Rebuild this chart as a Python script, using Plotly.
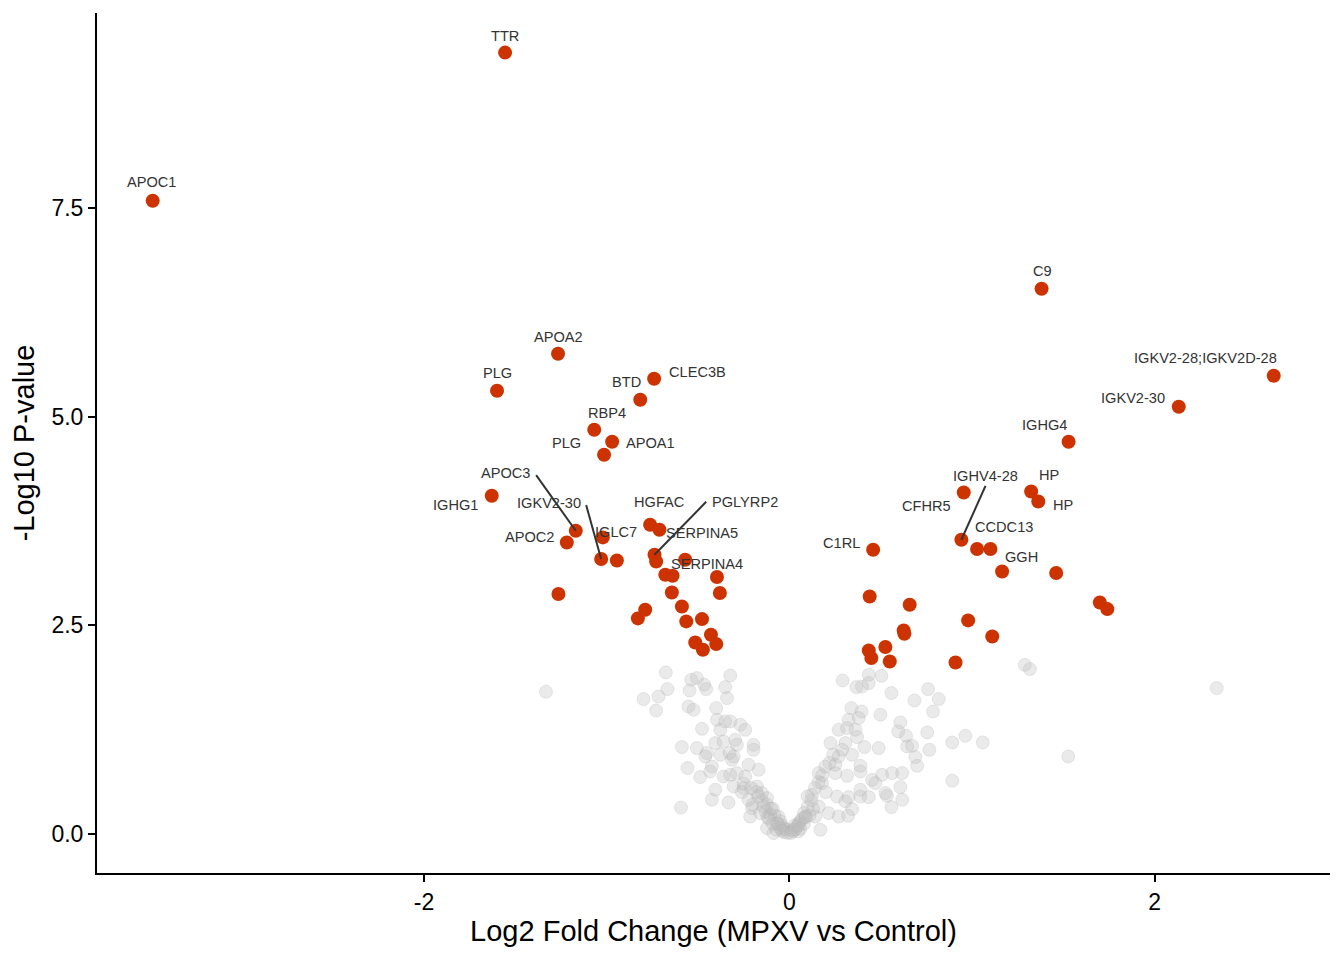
import plotly.graph_objects as go

# significant proteins (log2 fold change, -log10 p-value)
sig_x = [-1.556, -3.485, 1.381, -1.266, 2.652, -0.740, -1.600, 2.132, -0.816, -1.068,
         -0.970, 1.529, -1.014, -1.629, 0.955, 1.324, 1.363, -0.762, -0.711, -1.169,
         -1.021, -1.218, -1.030, -0.944, -0.738, -0.729, -0.570, -0.679, -0.639, -0.396,
         -0.380, -0.643, -1.264, -0.588, -0.789, -0.829, -0.564, -0.478, -0.429, -0.400,
         -0.515, -0.473,
         0.942, 1.028, 1.101, 0.459, 1.165, 1.461, 0.440, 0.659, 1.700, 1.741,
         0.979, 1.111, 0.626, 0.630, 0.526, 0.435, 0.449, 0.550, 0.910]
sig_y = [9.365, 7.590, 6.535, 5.755, 5.492, 5.456, 5.312, 5.120, 5.204, 4.844,
         4.700, 4.700, 4.544, 4.053, 4.092, 4.104, 3.984, 3.705, 3.645, 3.633,
         3.553, 3.493, 3.294, 3.277, 3.345, 3.265, 3.285, 3.106, 3.094, 3.078,
         2.886, 2.893, 2.874, 2.725, 2.686, 2.582, 2.546, 2.574, 2.386, 2.275,
         2.294, 2.206,
         3.525, 3.414, 3.414, 3.405, 3.145, 3.126, 2.845, 2.746, 2.773, 2.694,
         2.558, 2.366, 2.438, 2.398, 2.239, 2.198, 2.107, 2.066, 2.054]

# non-significant proteins
ns_x = [-0.676, -0.537, -0.506, -0.323, -0.667, -0.798, -0.716, -0.546, -0.466, -0.455,
        -0.351, -0.341, -0.729, -0.552, -0.524, -0.400, -0.396, -0.351, -0.323, -0.478,
        -0.378, -0.268, -0.241, -0.588, -0.506, -0.451, -0.405, -0.360, -0.296, -0.287,
        -0.196, -0.196, -0.378, -0.327, -0.314, -0.305, -0.460, -0.557, -0.424, -0.433,
        -0.488, -0.360, -0.323, -0.287, -0.223, -0.168, -0.241, -0.405, -0.424, -0.333,
        -0.305, -0.250, -0.177, -0.150, -0.593, -0.223, -0.204, -0.122, -0.122, -0.214,
        -0.159, -0.104, -0.059, -0.122, -0.067, -0.031, -0.086, -1.332,
        -0.10, -0.08, -0.05, -0.04, -0.02, -0.15, -0.18, -0.12, -0.07, -0.25, -0.20, -0.09, -0.03,
        -0.05, -0.06, -0.11, -0.13, -0.09, -0.14, -0.04, -0.01, -0.17, -0.21, -0.26,
        0.292, 0.435, 0.504, 0.367, 0.398, 0.435, 0.559, 0.685, 0.760, 0.818,
        0.787, 0.340, 0.395, 0.499, 0.325, 0.380, 0.608, 0.270, 0.316, 0.362,
        0.596, 0.639, 0.755, 0.225, 0.307, 0.371, 0.289, 0.411, 0.489, 0.645,
        0.672, 0.767, 0.270, 0.344, 0.690, 0.700, 0.161, 0.197, 0.252, 0.252,
        0.316, 0.389, 0.389, 0.453, 0.471, 0.508, 0.563, 0.618, 0.179, 0.124,
        0.261, 0.307, 0.325, 0.389, 0.389, 0.435, 0.526, 0.535, 0.608, 0.618,
        0.559, 0.344, 0.270, 0.322, 0.161, 0.142, 0.215, 0.170, 0.088, 0.051, 0.015,
        1.289, 1.317, 2.340, 0.892, 0.964, 1.059, 1.527, 0.892,
        0.02, 0.04, 0.06, 0.08, 0.10, 0.12, 0.14, 0.10, 0.16, 0.18, 0.05, 0.03, 0.07, 0.20, 0.22, 0.24,
        0.01, 0.03, 0.05, 0.08, 0.09, 0.11, 0.13, 0.06]
ns_y = [1.934, 1.847, 1.867, 1.898, 1.735, 1.615, 1.646, 1.718, 1.787, 1.735,
        1.759, 1.627, 1.478, 1.526, 1.487, 1.507, 1.367, 1.347, 1.347, 1.259,
        1.247, 1.307, 1.247, 1.040, 1.028, 0.968, 1.088, 1.107, 1.127, 1.067,
        1.067, 1.007, 0.947, 0.968, 0.887, 0.927, 0.927, 0.788, 0.807, 0.747,
        0.680, 0.687, 0.707, 0.728, 0.827, 0.767, 0.687, 0.528, 0.408, 0.375,
        0.567, 0.548, 0.567, 0.488, 0.315, 0.408, 0.308, 0.428, 0.348, 0.207,
        0.248, 0.228, 0.207, 0.068, 0.128, 0.068, 0.008, 1.703,
        0.30, 0.22, 0.15, 0.10, 0.05, 0.40, 0.50, 0.20, 0.05, 0.60, 0.35, 0.12, 0.02,
        0.07, 0.12, 0.18, 0.27, 0.30, 0.33, 0.04, 0.01, 0.45, 0.55, 0.50,
        1.838, 1.906, 1.894, 1.759, 1.766, 1.807, 1.687, 1.598, 1.735, 1.615,
        1.466, 1.507, 1.466, 1.427, 1.367, 1.387, 1.335, 1.247, 1.267, 1.247,
        1.227, 1.175, 1.215, 1.088, 1.088, 1.159, 1.007, 1.040, 1.028, 1.047,
        1.055, 1.007, 0.927, 0.947, 0.920, 0.815, 0.728, 0.807, 0.827, 0.728,
        0.695, 0.815, 0.747, 0.647, 0.608, 0.707, 0.728, 0.728, 0.608, 0.468,
        0.447, 0.387, 0.440, 0.528, 0.447, 0.440, 0.488, 0.456, 0.560, 0.408,
        0.320, 0.296, 0.207, 0.216, 0.327, 0.207, 0.248, 0.048, 0.207, 0.128, 0.048,
        2.026, 1.975, 1.747, 1.095, 1.175, 1.095, 0.927, 0.636,
        0.03, 0.08, 0.15, 0.25, 0.32, 0.40, 0.55, 0.45, 0.62, 0.70, 0.03, 0.10, 0.18, 0.50, 0.85, 0.95,
        0.01, 0.05, 0.10, 0.12, 0.20, 0.22, 0.30, 0.06]

# gene labels: name, label position
label_names = ["TTR", "APOC1", "C9", "APOA2", "IGKV2-28;IGKV2D-28", "CLEC3B", "PLG", "BTD",
               "IGKV2-30", "RBP4", "IGHG4", "PLG", "APOA1", "APOC3", "IGHV4-28", "HP",
               "IGHG1", "IGKV2-30", "HGFAC", "PGLYRP2", "HP", "CFHR5", "CCDC13", "IGLC7",
               "SERPINA5", "APOC2", "C1RL", "GGH", "SERPINA4"]
label_x = [-1.556, -3.490, 1.386, -1.266, 2.279, -0.504, -1.600, -0.893,
           1.879, -0.997, 1.397, -1.222, -0.762, -1.551, 1.074, 1.419,
           -1.830, -1.315, -0.712, -0.241, 1.496, 0.751, 1.173, -0.948,
           -0.477, -1.425, 0.285, 1.271, -0.449]
label_y = [9.57, 7.81, 6.75, 5.96, 5.70, 5.54, 5.52, 5.42,
           5.23, 5.05, 4.90, 4.69, 4.69, 4.32, 4.29, 4.30,
           3.94, 3.96, 3.98, 3.98, 3.94, 3.93, 3.68, 3.62,
           3.61, 3.56, 3.49, 3.32, 3.24]

# leader segments: (start x, start y, end x, end y)
seg_x0 = [-1.386, 1.074, -1.112, -0.455]
seg_y0 = [4.30, 4.17, 3.94, 3.98]
seg_x1 = [-1.169, 0.942, -1.030, -0.738]
seg_y1 = [3.633, 3.525, 3.294, 3.345]

fig = go.Figure()

fig.add_trace(go.Scatter(
    x=ns_x, y=ns_y, mode="markers",
    marker=dict(size=13, color="rgba(190,190,190,0.32)",
                line=dict(width=1, color="rgba(170,170,170,0.25)")),
    hoverinfo="skip", showlegend=False))

fig.add_trace(go.Scatter(
    x=sig_x, y=sig_y, mode="markers",
    marker=dict(size=14, color="#CC3300", line=dict(width=0)),
    showlegend=False))

# leader lines
for x0, y0, x1, y1 in zip(seg_x0, seg_y0, seg_x1, seg_y1):
    fig.add_trace(go.Scatter(x=[x0, x1], y=[y0, y1], mode="lines",
                             line=dict(color="#333333", width=2),
                             hoverinfo="skip", showlegend=False))

for name, lx, ly in zip(label_names, label_x, label_y):
    fig.add_annotation(x=lx, y=ly, text=name, showarrow=False,
                       font=dict(family="Liberation Sans, Arial", size=14.6, color="#333333"))

# page has an 8px body margin, so margins are trimmed to match
fig.update_layout(
    width=1344, height=960,
    plot_bgcolor="white", paper_bgcolor="white",
    margin=dict(l=89, r=22, t=5, b=95),
    font=dict(family="Liberation Sans, Arial", color="black"),
    xaxis=dict(range=[-3.79, 2.96], tickvals=[-2, 0, 2], ticktext=["-2", "0", "2"],
               showgrid=False, zeroline=False, showline=True, linecolor="black", linewidth=2,
               ticks="outside", ticklen=7, tickwidth=2, tickcolor="black",
               tickfont=dict(size=23, color="black"),
               title=dict(text="Log2 Fold Change (MPXV vs Control)", font=dict(size=29), standoff=4)),
    yaxis=dict(range=[-0.47, 9.84], tickvals=[0, 2.5, 5, 7.5], ticktext=["0.0", "2.5", "5.0", "7.5"],
               showgrid=False, zeroline=False, showline=True, linecolor="black", linewidth=2,
               ticks="outside", ticklen=7, tickwidth=2, tickcolor="black",
               tickfont=dict(size=23, color="black"),
               title=dict(text="-Log10 P-value", font=dict(size=29), standoff=8)),
)

fig.write_html("out.html")
